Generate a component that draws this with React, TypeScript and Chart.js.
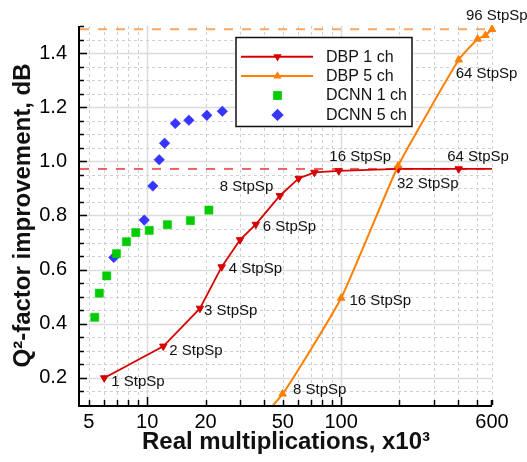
import React, { useEffect, useRef } from 'react';
import { Chart, registerables } from 'chart.js';

Chart.register(...registerables);

// ---------------- data (x in thousands of real multiplications) ----------------
const X_TICKS = [5, 10, 20, 50, 100, 600];
const Y_TICKS = [0.2, 0.4, 0.6, 0.8, 1.0, 1.2, 1.4];

const DBP1_X = [6.0, 12.1, 18.7, 24.2, 30.1, 36.3, 48.3, 60.4, 72.8, 97.3, 197, 404, 800];
const DBP1_Y = [0.2, 0.317, 0.457, 0.61, 0.71, 0.767, 0.873, 0.937, 0.959, 0.965, 0.972, 0.972, 0.972];
const DBP1_LABELS = ['1 StpSp', '2 StpSp', '3 StpSp', '4 StpSp', '', '6 StpSp', '8 StpSp', '', '', '16 StpSp', '', '64 StpSp', ''];

const DBP5_X = [25, 49.9, 100, 197, 404, 506, 555, 600];
const DBP5_Y = [-0.1, 0.141, 0.495, 0.984, 1.375, 1.452, 1.465, 1.488];
const DBP5_LABELS = ['', '8 StpSp', '16 StpSp', '32 StpSp', '64 StpSp', '', '', '96 StpSp'];

const DCNN1_X = [5.36, 5.66, 6.18, 6.94, 7.81, 8.73, 10.24, 12.7, 16.7, 20.8];
const DCNN1_Y = [0.424, 0.513, 0.577, 0.659, 0.703, 0.737, 0.745, 0.766, 0.781, 0.82];

const DCNN5_X = [6.72, 9.65, 10.69, 11.53, 12.29, 13.96, 16.4, 20.3, 24.4];
const DCNN5_Y = [0.645, 0.783, 0.909, 1.006, 1.067, 1.14, 1.152, 1.17, 1.185];

// saturation reference levels (DBP 1 ch, DBP 5 ch)
const REF_LEVELS = [0.972, 1.488];

// ---------------- styling ----------------
const FONT = '"Liberation Sans", Arial, Helvetica, sans-serif';
const RED = '#d60000';
const ORANGE = '#ff7f00';
const GREEN = '#00cc00';
const BLUE = '#3535ff';
const REF_COLORS = ['rgba(232,70,70,0.85)', 'rgba(255,150,70,0.85)'];

// label placement offsets (px from the marker: left edge, vertical centre)
const DBP1_LABEL_OFFSETS: (number[] | null)[] = [[7, 4], [6, 4.5], [4, 2.7], [7, 2], null, [7, 2], [-60, -9], null, null, [-9.5, -13.5], null, [-11.5, -12.5], null];
const DBP5_LABEL_OFFSETS: (number[] | null)[] = [null, [10.5, -4], [8.3, 3], [-1.3, 18], [-3, 14], null, null, [-26, -13.3]];

function pts(xs: number[], ys: number[]) {
  return xs.map((x, i) => ({ x, y: ys[i] }));
}

function marker(ctx: CanvasRenderingContext2D, kind: string, x: number, y: number, r: number, color: string) {
  ctx.fillStyle = color;
  ctx.beginPath();
  if (kind === 'down') {
    ctx.moveTo(x - r * 0.866, y - r * 0.5);
    ctx.lineTo(x + r * 0.866, y - r * 0.5);
    ctx.lineTo(x, y + r);
  } else if (kind === 'up') {
    ctx.moveTo(x - r * 0.866, y + r * 0.5);
    ctx.lineTo(x + r * 0.866, y + r * 0.5);
    ctx.lineTo(x, y - r);
  } else if (kind === 'square') {
    const s = r * 0.707;
    ctx.rect(x - s, y - s, 2 * s, 2 * s);
  } else {
    ctx.moveTo(x - r, y);
    ctx.lineTo(x, y - r);
    ctx.lineTo(x + r, y);
    ctx.lineTo(x, y + r);
  }
  ctx.closePath();
  ctx.fill();
}

const decor = {
  id: 'decor',
  beforeDatasetsDraw(chart: any) {
    const { ctx, chartArea: a, scales } = chart;
    const xs = scales.x, ys = scales.y;
    ctx.save();
    // vertical grid
    for (const d of [1, 10, 100]) {
      for (let m = 1; m <= 9; m++) {
        const v = m * d;
        if (v < xs.min || v > xs.max) continue;
        const px = Math.round(xs.getPixelForValue(v)) + 0.5;
        ctx.beginPath();
        if (m === 1) {
          ctx.setLineDash([]);
          ctx.strokeStyle = '#dcdcdc';
          ctx.lineWidth = 1.5;
        } else {
          ctx.setLineDash([3, 3]);
          ctx.strokeStyle = '#cfcfcf';
          ctx.lineWidth = 1;
        }
        ctx.moveTo(px, a.top);
        ctx.lineTo(px, a.bottom);
        ctx.stroke();
      }
    }
    // horizontal grid
    for (let k = 3; k <= 29; k++) {
      const v = k * 0.05;
      const py = Math.round(ys.getPixelForValue(v)) + 0.5;
      ctx.beginPath();
      if (k % 4 === 0) {
        ctx.setLineDash([]);
        ctx.strokeStyle = '#dcdcdc';
        ctx.lineWidth = 1.5;
      } else {
        ctx.setLineDash([3, 3]);
        ctx.strokeStyle = '#cfcfcf';
        ctx.lineWidth = 1;
      }
      ctx.moveTo(a.left, py);
      ctx.lineTo(a.right, py);
      ctx.stroke();
    }
    // reference dashed levels
    ctx.lineWidth = 2;
    ctx.setLineDash([9, 9]);
    REF_LEVELS.forEach((lv, i) => {
      const py = ys.getPixelForValue(lv);
      ctx.strokeStyle = REF_COLORS[i];
      ctx.beginPath();
      ctx.moveTo(a.left, py);
      ctx.lineTo(a.right, py);
      ctx.stroke();
    });
    ctx.restore();
  },
  afterDatasetsDraw(chart: any) {
    const { ctx } = chart;
    ctx.save();
    ctx.font = '15px ' + FONT;
    ctx.fillStyle = '#111';
    ctx.textBaseline = 'middle';
    ctx.textAlign = 'left';
    const sets: [number, string[], (number[] | null)[]][] = [
      [0, DBP1_LABELS, DBP1_LABEL_OFFSETS],
      [1, DBP5_LABELS, DBP5_LABEL_OFFSETS],
    ];
    for (const [di, labels, offs] of sets) {
      const meta = chart.getDatasetMeta(di);
      labels.forEach((t, j) => {
        const o = offs[j];
        if (!t || !o) return;
        const p = meta.data[j];
        ctx.fillText(t, p.x + o[0], p.y + o[1]);
      });
    }
    ctx.restore();
  },
  afterDraw(chart: any) {
    const { ctx, chartArea: a, scales } = chart;
    const xs = scales.x, ys = scales.y;
    ctx.save();
    ctx.strokeStyle = '#000';
    ctx.setLineDash([]);
    // tick marks (inside)
    ctx.lineWidth = 1.5;
    for (const d of [1, 10, 100]) {
      for (let m = 1; m <= 9; m++) {
        const v = m * d;
        if (v < xs.min || v > xs.max) continue;
        const px = Math.round(xs.getPixelForValue(v)) + 0.5;
        const len = m === 1 ? 8 : 5;
        ctx.beginPath();
        ctx.moveTo(px, a.bottom);
        ctx.lineTo(px, a.bottom - len);
        ctx.stroke();
      }
    }
    {
      const px = Math.round(xs.getPixelForValue(xs.max)) - 0.5;
      ctx.beginPath();
      ctx.moveTo(px, a.bottom);
      ctx.lineTo(px, a.bottom - 5);
      ctx.stroke();
    }
    for (let k = 3; k <= 30; k++) {
      const v = k * 0.05;
      const py = Math.round(ys.getPixelForValue(v)) + 0.5;
      const len = k % 4 === 0 ? 7 : 4;
      ctx.beginPath();
      ctx.moveTo(a.left, py);
      ctx.lineTo(a.left + len, py);
      ctx.stroke();
    }
    // axis lines
    ctx.lineWidth = 2;
    ctx.beginPath();
    ctx.moveTo(a.left - 1, a.top);
    ctx.lineTo(a.left - 1, a.bottom + 1);
    ctx.lineTo(a.right, a.bottom + 1);
    ctx.stroke();

    // legend box
    const bx = 236, by = 37.5, bw = 176, bh = 89;
    ctx.fillStyle = '#fff';
    ctx.fillRect(bx, by, bw, bh);
    ctx.lineWidth = 1.5;
    ctx.strokeStyle = '#111';
    ctx.strokeRect(bx, by, bw, bh);
    const rows = chart.data.datasets;
    const kinds = ['down', 'up', 'square', 'diamond'];
    const sizes = [4.8, 4.8, 6.2, 6.2];
    rows.forEach((ds: any, i: number) => {
      const ry = 56.7 + i * 19.4;
      if (ds.showLine !== false) {
        ctx.strokeStyle = ds.borderColor;
        ctx.lineWidth = 2;
        ctx.beginPath();
        ctx.moveTo(241, ry);
        ctx.lineTo(313, ry);
        ctx.stroke();
      }
      marker(ctx, kinds[i], 277.5, ry, sizes[i], ds.backgroundColor);
      ctx.fillStyle = '#111';
      ctx.font = '16px ' + FONT;
      ctx.textBaseline = 'middle';
      ctx.textAlign = 'left';
      ctx.fillText(ds.label, 326, ry + 0.5);
    });
    ctx.restore();
  },
};

export default function App() {
  const ref = useRef<HTMLCanvasElement | null>(null);
  useEffect(() => {
    const canvas = ref.current;
    if (!canvas) return;
    const chart = new Chart(canvas, {
      type: 'scatter',
      data: {
        datasets: [
          {
            label: 'DBP 1 ch',
            data: pts(DBP1_X, DBP1_Y),
            showLine: true,
            borderColor: RED,
            backgroundColor: RED,
            borderWidth: 1.8,
            pointStyle: 'triangle',
            rotation: 180,
            pointRadius: 4.3,
            pointBorderWidth: 1,
            pointBorderColor: RED,
            tension: 0,
            order: 1,
          } as any,
          {
            label: 'DBP 5 ch',
            data: pts(DBP5_X, DBP5_Y),
            showLine: true,
            borderColor: ORANGE,
            backgroundColor: ORANGE,
            borderWidth: 2,
            pointStyle: 'triangle',
            pointRadius: 4.3,
            pointBorderWidth: 1,
            pointBorderColor: ORANGE,
            tension: 0.15,
            clip: { left: 0, top: 10, right: 10, bottom: 0 },
            order: 0,
          } as any,
          {
            label: 'DCNN 1 ch',
            data: pts(DCNN1_X, DCNN1_Y),
            showLine: false,
            borderColor: GREEN,
            backgroundColor: GREEN,
            pointStyle: 'rect',
            pointRadius: 5.8,
            pointBorderWidth: 0.5,
            pointBorderColor: GREEN,
            order: 2,
          } as any,
          {
            label: 'DCNN 5 ch',
            data: pts(DCNN5_X, DCNN5_Y),
            showLine: false,
            borderColor: BLUE,
            backgroundColor: BLUE,
            pointStyle: 'rectRot',
            pointRadius: 5.3,
            pointBorderWidth: 0.5,
            pointBorderColor: BLUE,
            order: 3,
          } as any,
        ],
      },
      options: {
        animation: false,
        responsive: false,
        devicePixelRatio: 1,
        layout: { padding: { left: 0, right: 35, top: 26, bottom: 0 } },
        plugins: { legend: { display: false }, tooltip: { enabled: false } },
        scales: {
          x: {
            type: 'logarithmic',
            min: 4.5,
            max: 600,
            bounds: 'data',
            grid: { display: false, drawTicks: false },
            border: { display: false },
            afterBuildTicks: (s: any) => {
              s.ticks = X_TICKS.map((v) => ({ value: v, major: false }));
            },
            afterFit: (s: any) => {
              s.height = 57;
              s.paddingLeft = 0;
              s.paddingRight = 0;
            },
            ticks: {
              autoSkip: false,
              maxRotation: 0,
              minRotation: 0,
              padding: 5,
              color: '#000',
              font: { family: FONT, size: 20 },
              callback: (v: any) => String(v),
            },
            title: {
              display: true,
              text: 'Real multiplications, x10³',
              color: '#111',
              font: { family: FONT, size: 24, weight: 'bold' },
              padding: { top: 0, bottom: 5 },
            },
          } as any,
          y: {
            type: 'linear',
            min: 0.1,
            max: 1.5,
            bounds: 'data',
            grid: { display: false, drawTicks: false },
            border: { display: false },
            afterBuildTicks: (s: any) => {
              s.ticks = Y_TICKS.map((v) => ({ value: v }));
            },
            afterFit: (s: any) => {
              s.width = 80;
              s.paddingTop = 0;
              s.paddingBottom = 0;
            },
            ticks: {
              padding: 13,
              color: '#000',
              font: { family: FONT, size: 20 },
              callback: (v: any) => Number(v).toFixed(1),
            },
            title: {
              display: true,
              text: 'Q²-factor improvement, dB',
              color: '#111',
              font: { family: FONT, size: 24, weight: 'bold' },
              padding: { top: 9, bottom: 0 },
            },
          } as any,
        },
      },
      plugins: [decor],
    });
    return () => chart.destroy();
  }, []);

  return (
    <div style={{ position: 'absolute', left: 0, top: 0, width: 527, height: 462, background: '#fff' }}>
      <canvas ref={ref} width={527} height={462} style={{ width: 527, height: 462, display: 'block' }} />
    </div>
  );
}
